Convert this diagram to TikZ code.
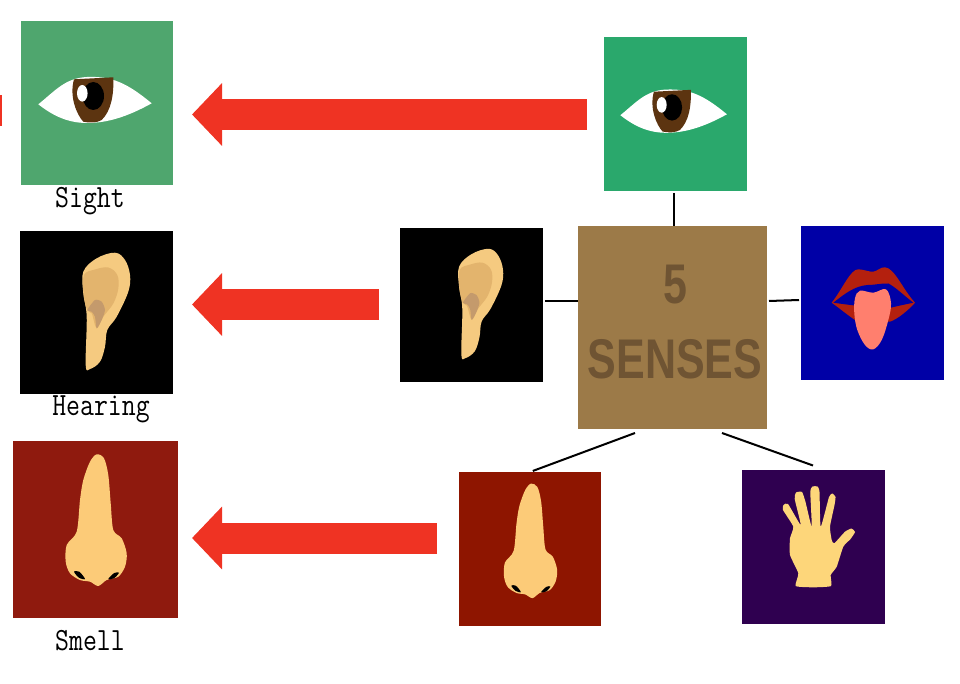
\documentclass[tikz,border=0pt]{standalone}
\usepackage{fontspec}
\setsansfont{Liberation Sans}
\usetikzlibrary{arrows.meta}

\definecolor{arrowred}{HTML}{EF3323}
\definecolor{skin}{HTML}{F5CA80}
\definecolor{skinmid}{HTML}{E3B46D}
\definecolor{skindark}{HTML}{C49A6C}
\definecolor{nosecol}{HTML}{FCCB78}
\definecolor{handcol}{HTML}{FDD67A}
\definecolor{iris}{HTML}{5C3410}
\definecolor{lipcol}{HTML}{B4200E}
\definecolor{tonguecol}{HTML}{FF7F6E}
\definecolor{mouthblue}{HTML}{0000A6}
\definecolor{sensebrown}{HTML}{9C7A48}
\definecolor{sensetext}{HTML}{6F5433}

\tikzset{
    iconbox/.style={inner sep=0pt, outer sep=0pt},
    caption/.style={font=\ttfamily\fontsize{27}{27}\selectfont, inner sep=0pt},
    link/.style={line width=2pt, black},
    bigarrow/.style={line width=31pt, arrowred, -{Triangle[length=30pt,width=61pt]}},
    pics/eyeicon/.style={code={
        \fill[white] (-58.7,1.3) .. controls (-42,-12) and (-32,-25) .. (-10,-26)
            .. controls (15,-27) and (30,-20) .. (54.7,0.3)
            .. controls (30,14) and (10,20) .. (-10,20)
            .. controls (-30,20) and (-45,12) .. cycle;
        \fill[iris] (-23,-23.7) -- (16.3,-25.7) .. controls (17,-8) and (14,8) .. (4.7,17)
            .. controls (0,20) and (-8,20) .. (-13.7,18.7)
            .. controls (-20,12) and (-28,-6) .. cycle;
        \fill[black] (-3.7,-7) ellipse (10.7 and 14);
        \fill[white] (-14.7,-9.7) ellipse (5.3 and 8.3);
    }},
    pics/earicon/.style={code={
        \fill[skin] plot[smooth cycle, tension=0.6] coordinates {(-13.2,-40.8) (0.2,-54.2) (18.5,-59.8)
            (28.5,-52.5) (33.5,-37.5) (31.8,-20.8) (20.2,4.2) (10.8,17.5) (8.5,34.2)
            (3.5,49.2) (-6.5,56.5) (-10.8,52.5) (-9.8,4.2) (-13.2,-19.2)};
        \fill[skinmid] plot[smooth cycle, tension=0.6] coordinates {(-12.5,-37.5) (-1.5,-43) (11.8,-45)
            (20.8,-37.5) (21.8,-24) (16.8,-9) (6.8,4.2) (0.2,15.8) (-4.8,0.8) (-9.5,-2.5) (-13,-19)};
        % inner fold
        \fill[skindark] plot[smooth cycle, tension=0.4] coordinates {(-9.2,-2.5) (-1.5,-12.5) (5.2,-10.8)
            (8.5,-2.5) (5.2,7.5) (0.2,15.8) (-1.5,4.2) (-4.8,-0.8)};
    }},
    pics/noseicon/.style={code={
        \fill[nosecol] plot[smooth cycle, tension=0.5] coordinates {(-5.5,-67.8) (1.2,-75.2) (8.5,-71.2)
            (12.8,-54.5) (15.2,-26.2) (17.8,0.5) (26.2,8.8) (31.2,23.8) (29.5,37.2)
            (22.8,47.2) (11.2,50.5) (2.8,56.5) (-5.5,52.2) (-15.5,50.5) (-25.5,43.8)
            (-29.8,32.2) (-28.8,15.5) (-18.8,2.2) (-15.5,-29.5) (-12.2,-49.5)};
        % nostrils
        \fill[black] plot[smooth cycle] coordinates {(-21.5,42.2) (-16.2,42.2) (-10.5,49.5) (-16.5,48.2)};
        \fill[black] plot[smooth cycle] coordinates {(12.8,49.5) (18.8,43.5) (23.5,43.2) (18.5,48.8)};
    }},
    pics/mouthicon/.style={code={
        \fill[lipcol] (-40.8,-0.3) .. controls (-30,-14) and (-22,-34) .. (-14.2,-33.7)
            .. controls (-8,-33.5) and (-4,-31) .. (0.8,-31.3)
            .. controls (5,-32) and (8,-36) .. (12.5,-35.7)
            .. controls (22,-35) and (30,-14) .. (42.5,-0.3)
            .. controls (35,8) and (25,16) .. (17.5,18.7)
            -- (-17.5,17) .. controls (-25,12) and (-32,6) .. cycle;
        \fill[mouthblue] (-39.2,-0.3) .. controls (-28,-9) and (-18,-17) .. (-5,-18)
            .. controls (3,-18) and (10,-20) .. (16,-19.5)
            .. controls (24,-15) and (32,-7) .. (40.8,-0.3)
            .. controls (30,2) and (20,4) .. (14,6)
            -- (-14,3) .. controls (-22,2) and (-30,1) .. cycle;
        \fill[tonguecol] plot[smooth cycle, tension=0.6] coordinates {(-12.5,-12.3) (0.8,-10.3) (13.5,-13.7)
            (18.5,0.3) (15.8,17) (9.2,37) (0.8,46.3) (-7.5,42) (-15.2,27) (-18.2,10.3) (-17.5,-4.7)};
    }},
    pics/handicon/.style={code={
        \fill[handcol] plot[smooth cycle, tension=0.3] coordinates {(-17.8,39) (-15.2,26.3) (-23.5,8) (-23.5,-8.7)
            (-20.2,-20.3) (-30.5,-37) (-30,-42) (-25.5,-43) (-12.8,-22)
            (-18.8,-48) (-17.5,-54.5) (-11.5,-55) (-8,-45) (-1.8,-20.3)
            (-3.2,-55) (-1,-60.5) (4,-60.5) (6,-55) (7.2,-20.3)
            (15.5,-50) (19,-53.5) (22,-50) (21,-42) (16.5,-20.3) (18.2,-7) (20.8,-3.7)
            (31.5,-15.3) (38,-18.5) (41.5,-15) (37,-8) (29.8,-0.3) (23.2,19.7) (17.2,28)
            (17.5,39) (0,40.3)};
    }},
}

\begin{document}
\begin{tikzpicture}[x=1pt, y=-1pt]
    \useasboundingbox (0,0) rectangle (960,684);

    % center square
    \node[iconbox, fill=sensebrown, minimum width=189pt, minimum height=203pt] (senses) at (672.5,327.5) {};
    \node[inner sep=0pt, align=center, text=sensetext, font=\sffamily\bfseries\fontsize{43}{75}\selectfont] (sensestext) at (675,322)
        {\scalebox{1}[1.3]{5}\\\scalebox{1}[1.3]{SENSES}};

    % the five senses around it
    \node[iconbox, fill={rgb,255:red,42;green,168;blue,108}, minimum width=143pt, minimum height=154pt] (eyesmall) at (675.5,114) {};
    \node[iconbox, fill=black, minimum width=143pt, minimum height=154pt] (earsmall) at (471.5,305) {};
    \node[iconbox, fill=mouthblue, minimum width=143pt, minimum height=154pt] (mouthsmall) at (872.5,303) {};
    \node[iconbox, fill={rgb,255:red,142;green,21;blue,0}, minimum width=142pt, minimum height=154pt] (nosesmall) at (530,549) {};
    \node[iconbox, fill={rgb,255:red,47;green,0;blue,80}, minimum width=143pt, minimum height=154pt] (handsmall) at (813.5,547) {};

    \pic[scale=0.94] at (eyesmall) {eyeicon};
    \pic[scale=0.94] at (earsmall) {earicon};
    \pic at (mouthsmall) {mouthicon};
    \pic[scale=0.87] at (nosesmall) {noseicon};
    \pic at (handsmall) {handicon};

    % lines to the center
    \coordinate (eyefoot) at (674,193);
    \coordinate (earfoot) at (545,301.5);
    \coordinate (mouthfoot) at (799,300);
    \coordinate (mouthstart) at (769,301);
    \coordinate (nosefrom) at (635,433);
    \coordinate (handfrom) at (722,433);
    \coordinate (handfoot) at (813,465.5);
    \draw[link] (eyefoot) -- (eyefoot |- senses.north);
    \draw[link] (earfoot) -- (earfoot -| senses.west);
    \draw[link] (mouthstart) -- (mouthfoot);
    \draw[link, shorten >=3pt] (nosefrom) -- (nosesmall.north);
    \draw[link] (handfrom) -- (handfoot);

    % enlarged icons on the left
    \node[iconbox, fill={rgb,255:red,79;green,166;blue,110}, minimum width=152pt, minimum height=164pt] (eyebig) at (97,103) {};
    \node[iconbox, fill=black, minimum width=153pt, minimum height=163pt] (earbig) at (96.5,312.5) {};
    \node[iconbox, fill={rgb,255:red,143;green,26;blue,14}, minimum width=165pt, minimum height=177pt] (nosebig) at (95.5,529.5) {};

    \pic at (eyebig) {eyeicon};
    \pic at (earbig) {earicon};
    \pic at (nosebig) {noseicon};

    \node[caption] (sightlabel) at (90,201) {\scalebox{1}[1.2]{Sight}};
    \node[caption] (hearinglabel) at (101,409) {\scalebox{1}[1.2]{Hearing}};
    \node[caption] (smelllabel) at (90,641) {\scalebox{1}[1.2]{Smell}};

    % red arrows
    \coordinate (eyetail) at (587,114.5);
    \coordinate (eartail) at (379,304.5);
    \coordinate (nosetail) at (437,538);
    \draw[bigarrow, shorten >=19pt] (eyetail) -- (eyetail -| eyebig.east);
    \draw[bigarrow, shorten >=19pt] (eartail) -- (eartail -| earbig.east);
    \draw[bigarrow, shorten >=14pt] (nosetail) -- (nosetail -| nosebig.east);
    \fill[arrowred] (0,95) rectangle (2,126);
\end{tikzpicture}
\end{document}
